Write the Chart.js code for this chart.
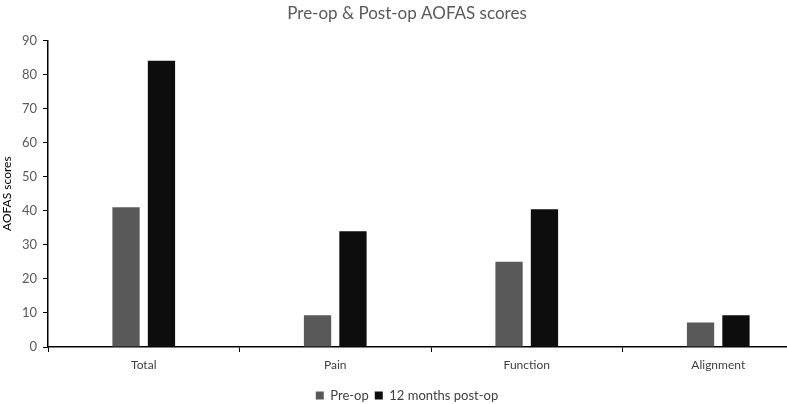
<!DOCTYPE html>
<html>
<head>
<meta charset="utf-8">
<script src="https://cdn.jsdelivr.net/npm/chart.js@4"></script>
<style>
html,body{margin:0;padding:0;background:#fff;overflow:hidden;}
#wrap{width:787px;height:404px;overflow:hidden;position:relative;}
#box{width:814px;height:404px;position:absolute;left:0;top:0;}
</style>
</head>
<body>
<div id="wrap"><div id="box"><canvas id="c"></canvas></div></div>
<script>
const categories = ["Total", "Pain", "Function", "Alignment"];
const preOp = [41, 9.3, 25, 7.2];
const postOp = [84, 34, 40.4, 9.3];
const seriesNames = ["Pre-op", "12 months post-op"];
const titleText = "Pre-op & Post-op AOFAS scores";
const yTitle = "AOFAS scores";

const fontFam = "Lato, 'Open Sans', 'Liberation Sans', sans-serif";

new Chart(document.getElementById('c'), {
  type: 'bar',
  data: {
    labels: categories,
    datasets: [
      { label: seriesNames[0], data: preOp, backgroundColor: '#595959', borderWidth: 0,
        categoryPercentage: 0.37, barPercentage: 0.77 },
      { label: seriesNames[1], data: postOp, backgroundColor: '#0d0d0d', borderWidth: 0,
        categoryPercentage: 0.37, barPercentage: 0.77 }
    ]
  },
  options: {
    responsive: true,
    maintainAspectRatio: false,
    animation: false,
    layout: { padding: { left: 0, right: 0, top: 3, bottom: -8 } },
    plugins: {
      title: {
        display: true, text: titleText, color: '#595959',
        font: { family: fontFam, size: 17, weight: 'normal' },
        padding: { top: 0, bottom: 17 }
      },
      legend: {
        position: 'bottom',
        labels: {
          color: '#404040', boxWidth: 8, boxHeight: 8, padding: 6,
          font: { family: fontFam, size: 13 }
        }
      },
      tooltip: { enabled: false }
    },
    scales: {
      x: {
        grid: { display: true, drawOnChartArea: false, color: '#000', tickLength: 5, offset: true },
        border: { display: true, color: '#000', width: 1.5 },
        ticks: { color: '#404040', font: { family: fontFam, size: 12 }, padding: 6 },
        afterFit: (s) => { s.height = 36; }
      },
      y: {
        min: 0, max: 90,
        afterFit: (s) => { s.width = 48; },
        ticks: { stepSize: 10, color: '#595959', font: { family: fontFam, size: 13 }, padding: 6 },
        grid: { display: true, drawOnChartArea: false, color: '#000', tickLength: 5 },
        border: { display: true, color: '#000', width: 1.5 },
        title: { display: true, text: yTitle, color: '#000', font: { family: fontFam, size: 12 }, padding: 0 }
      }
    }
  }
});
</script>
</body>
</html>
